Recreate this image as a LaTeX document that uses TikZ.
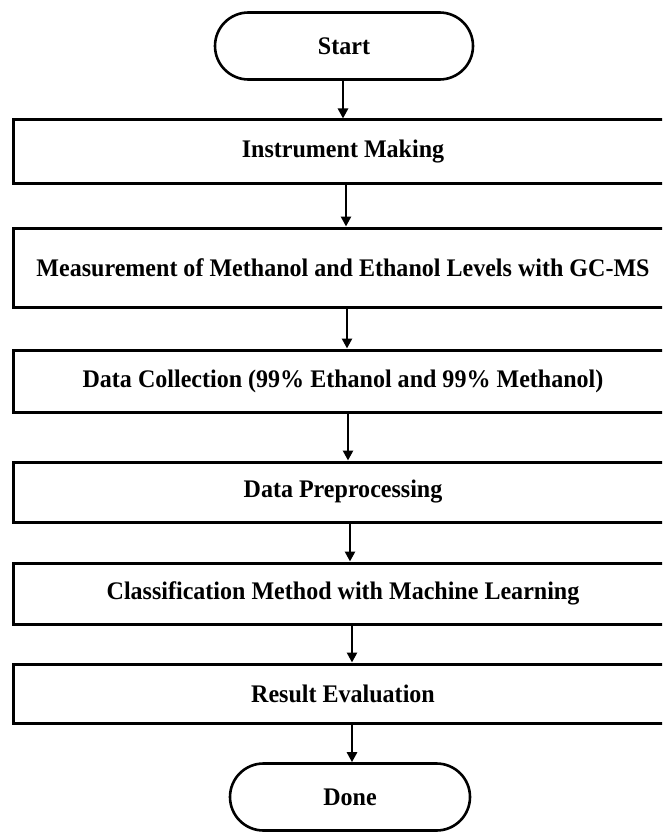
\documentclass[tikz,border=0pt]{standalone}
\usepackage{fontspec}
\setmainfont[FakeStretch=0.95]{Liberation Serif}
\usetikzlibrary{arrows.meta,shapes.misc}
\begin{document}
\begin{tikzpicture}[x=1pt,y=-1pt,
  boxstyle/.style={draw,line width=3pt,rectangle,minimum width=660pt,inner sep=0pt,
    font=\fontsize{25.3}{28}\selectfont\bfseries},
  termstyle/.style={draw,line width=2.6pt,rounded rectangle,inner sep=0pt,minimum height=67pt,
    font=\fontsize{25.3}{28}\selectfont\bfseries},
  arr/.style={line width=2.5pt,-{Triangle[length=10pt,width=10pt]}}]
\useasboundingbox (0,0) rectangle (662,832);
\fill[white] (0,0) rectangle (662,832);
\clip (0,0) rectangle (662,832);
\node[termstyle,minimum width=258pt] (start) at (344,46) {Start};
\node[boxstyle,minimum height=63pt] (inst) at (343,151.5) {Instrument Making};
\node[boxstyle,minimum height=79pt] (meas) at (343,267.5) {Measurement of Methanol and Ethanol Levels with GC-MS};
\node[boxstyle,minimum height=62pt] (coll) at (343,381) {Data Collection (99\% Ethanol and 99\% Methanol)};
\node[boxstyle,minimum height=60pt] (prep) at (343,492) {Data Preprocessing};
\node[boxstyle,minimum height=61pt] (clas) at (343,593.5) {Classification Method with Machine Learning};
\node[boxstyle,minimum height=59pt] (res) at (343,693.5) {Result Evaluation};
\node[termstyle,minimum width=240pt] (done) at (350,797) {Done};
\draw[arr] ([xshift=-1pt]start.south) -- ([xshift=0pt]inst.north);
\draw[arr] ([xshift=3pt]inst.south) -- ([xshift=3pt]meas.north);
\draw[arr] ([xshift=4pt]meas.south) -- ([xshift=4pt]coll.north);
\draw[arr] ([xshift=5pt]coll.south) -- ([xshift=5pt]prep.north);
\draw[arr] ([xshift=7pt]prep.south) -- ([xshift=7pt]clas.north);
\draw[arr] ([xshift=9pt]clas.south) -- ([xshift=9pt]res.north);
\draw[arr] ([xshift=9pt]res.south) -- ([xshift=2pt]done.north);
\end{tikzpicture}
\end{document}
